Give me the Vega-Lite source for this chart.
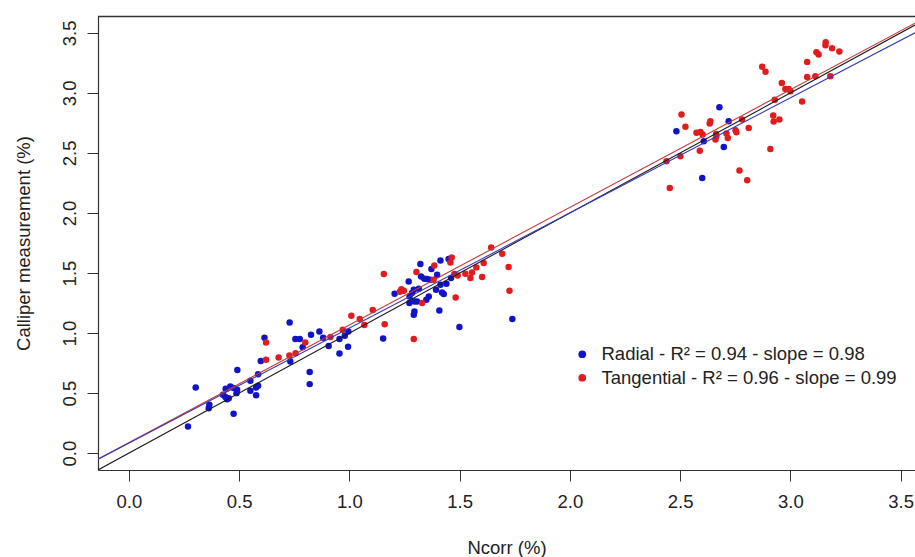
{
  "$schema": "https://vega.github.io/schema/vega-lite/v6.json",
  "width": 817,
  "height": 454,
  "autosize": {"type": "none"},
  "padding": {"left": 98, "top": 16, "right": 0, "bottom": 87},
  "background": "white",
  "config": {"view": {"stroke": null}},
  "datasets": {
    "pts": [
      {"series":"Radial","ncorr":0.268,"calliper":0.222},
      {"series":"Radial","ncorr":0.303,"calliper":0.547},
      {"series":"Radial","ncorr":0.365,"calliper":0.403},
      {"series":"Radial","ncorr":0.362,"calliper":0.375},
      {"series":"Radial","ncorr":0.427,"calliper":0.486},
      {"series":"Radial","ncorr":0.439,"calliper":0.536},
      {"series":"Radial","ncorr":0.460,"calliper":0.555},
      {"series":"Radial","ncorr":0.475,"calliper":0.542},
      {"series":"Radial","ncorr":0.491,"calliper":0.528},
      {"series":"Radial","ncorr":0.445,"calliper":0.450},
      {"series":"Radial","ncorr":0.438,"calliper":0.467},
      {"series":"Radial","ncorr":0.453,"calliper":0.458},
      {"series":"Radial","ncorr":0.488,"calliper":0.500},
      {"series":"Radial","ncorr":0.475,"calliper":0.328},
      {"series":"Radial","ncorr":0.492,"calliper":0.692},
      {"series":"Radial","ncorr":0.551,"calliper":0.603},
      {"series":"Radial","ncorr":0.551,"calliper":0.519},
      {"series":"Radial","ncorr":0.586,"calliper":0.658},
      {"series":"Radial","ncorr":0.586,"calliper":0.561},
      {"series":"Radial","ncorr":0.577,"calliper":0.547},
      {"series":"Radial","ncorr":0.577,"calliper":0.483},
      {"series":"Radial","ncorr":0.598,"calliper":0.767},
      {"series":"Radial","ncorr":0.615,"calliper":0.961},
      {"series":"Radial","ncorr":0.729,"calliper":1.088},
      {"series":"Radial","ncorr":0.732,"calliper":0.763},
      {"series":"Radial","ncorr":0.755,"calliper":0.950},
      {"series":"Radial","ncorr":0.775,"calliper":0.950},
      {"series":"Radial","ncorr":0.788,"calliper":0.883},
      {"series":"Radial","ncorr":0.820,"calliper":0.675},
      {"series":"Radial","ncorr":0.820,"calliper":0.575},
      {"series":"Radial","ncorr":0.826,"calliper":0.986},
      {"series":"Radial","ncorr":0.864,"calliper":1.013},
      {"series":"Radial","ncorr":0.881,"calliper":0.961},
      {"series":"Radial","ncorr":0.906,"calliper":0.892},
      {"series":"Radial","ncorr":0.955,"calliper":0.950},
      {"series":"Radial","ncorr":0.979,"calliper":0.978},
      {"series":"Radial","ncorr":0.995,"calliper":1.013},
      {"series":"Radial","ncorr":0.955,"calliper":0.830},
      {"series":"Radial","ncorr":0.994,"calliper":0.886},
      {"series":"Radial","ncorr":1.153,"calliper":0.955},
      {"series":"Radial","ncorr":1.205,"calliper":1.328},
      {"series":"Radial","ncorr":1.269,"calliper":1.430},
      {"series":"Radial","ncorr":1.272,"calliper":1.250},
      {"series":"Radial","ncorr":1.273,"calliper":1.305},
      {"series":"Radial","ncorr":1.284,"calliper":1.333},
      {"series":"Radial","ncorr":1.292,"calliper":1.361},
      {"series":"Radial","ncorr":1.315,"calliper":1.369},
      {"series":"Radial","ncorr":1.295,"calliper":1.263},
      {"series":"Radial","ncorr":1.307,"calliper":1.263},
      {"series":"Radial","ncorr":1.295,"calliper":1.180},
      {"series":"Radial","ncorr":1.292,"calliper":1.153},
      {"series":"Radial","ncorr":1.322,"calliper":1.575},
      {"series":"Radial","ncorr":1.325,"calliper":1.472},
      {"series":"Radial","ncorr":1.340,"calliper":1.453},
      {"series":"Radial","ncorr":1.352,"calliper":1.450},
      {"series":"Radial","ncorr":1.367,"calliper":1.444},
      {"series":"Radial","ncorr":1.372,"calliper":1.533},
      {"series":"Radial","ncorr":1.360,"calliper":1.305},
      {"series":"Radial","ncorr":1.349,"calliper":1.278},
      {"series":"Radial","ncorr":1.398,"calliper":1.486},
      {"series":"Radial","ncorr":1.413,"calliper":1.605},
      {"series":"Radial","ncorr":1.450,"calliper":1.617},
      {"series":"Radial","ncorr":1.461,"calliper":1.458},
      {"series":"Radial","ncorr":1.440,"calliper":1.411},
      {"series":"Radial","ncorr":1.413,"calliper":1.403},
      {"series":"Radial","ncorr":1.393,"calliper":1.361},
      {"series":"Radial","ncorr":1.420,"calliper":1.338},
      {"series":"Radial","ncorr":1.428,"calliper":1.325},
      {"series":"Radial","ncorr":1.408,"calliper":1.188},
      {"series":"Radial","ncorr":1.499,"calliper":1.050},
      {"series":"Radial","ncorr":1.739,"calliper":1.117},
      {"series":"Radial","ncorr":2.678,"calliper":2.880},
      {"series":"Radial","ncorr":2.720,"calliper":2.763},
      {"series":"Radial","ncorr":2.483,"calliper":2.680},
      {"series":"Radial","ncorr":2.607,"calliper":2.597},
      {"series":"Radial","ncorr":2.698,"calliper":2.550},
      {"series":"Radial","ncorr":2.600,"calliper":2.292},
      {"series":"Tangential","ncorr":0.622,"calliper":0.922},
      {"series":"Tangential","ncorr":0.622,"calliper":0.778},
      {"series":"Tangential","ncorr":0.679,"calliper":0.797},
      {"series":"Tangential","ncorr":0.728,"calliper":0.813},
      {"series":"Tangential","ncorr":0.756,"calliper":0.833},
      {"series":"Tangential","ncorr":0.800,"calliper":0.922},
      {"series":"Tangential","ncorr":0.914,"calliper":0.967},
      {"series":"Tangential","ncorr":0.970,"calliper":1.028},
      {"series":"Tangential","ncorr":1.009,"calliper":1.144},
      {"series":"Tangential","ncorr":1.047,"calliper":1.117},
      {"series":"Tangential","ncorr":1.068,"calliper":1.067},
      {"series":"Tangential","ncorr":1.106,"calliper":1.192},
      {"series":"Tangential","ncorr":1.160,"calliper":1.073},
      {"series":"Tangential","ncorr":1.156,"calliper":1.492},
      {"series":"Tangential","ncorr":1.236,"calliper":1.365},
      {"series":"Tangential","ncorr":1.247,"calliper":1.353},
      {"series":"Tangential","ncorr":1.229,"calliper":1.344},
      {"series":"Tangential","ncorr":1.292,"calliper":0.950},
      {"series":"Tangential","ncorr":1.304,"calliper":1.508},
      {"series":"Tangential","ncorr":1.330,"calliper":1.250},
      {"series":"Tangential","ncorr":1.382,"calliper":1.444},
      {"series":"Tangential","ncorr":1.385,"calliper":1.563},
      {"series":"Tangential","ncorr":1.464,"calliper":1.630},
      {"series":"Tangential","ncorr":1.458,"calliper":1.588},
      {"series":"Tangential","ncorr":1.476,"calliper":1.492},
      {"series":"Tangential","ncorr":1.491,"calliper":1.480},
      {"series":"Tangential","ncorr":1.482,"calliper":1.297},
      {"series":"Tangential","ncorr":1.526,"calliper":1.494},
      {"series":"Tangential","ncorr":1.549,"calliper":1.458},
      {"series":"Tangential","ncorr":1.556,"calliper":1.505},
      {"series":"Tangential","ncorr":1.576,"calliper":1.547},
      {"series":"Tangential","ncorr":1.602,"calliper":1.467},
      {"series":"Tangential","ncorr":1.609,"calliper":1.583},
      {"series":"Tangential","ncorr":1.643,"calliper":1.713},
      {"series":"Tangential","ncorr":1.693,"calliper":1.661},
      {"series":"Tangential","ncorr":1.722,"calliper":1.550},
      {"series":"Tangential","ncorr":1.726,"calliper":1.353},
      {"series":"Tangential","ncorr":2.438,"calliper":2.430},
      {"series":"Tangential","ncorr":2.453,"calliper":2.208},
      {"series":"Tangential","ncorr":2.501,"calliper":2.472},
      {"series":"Tangential","ncorr":2.506,"calliper":2.819},
      {"series":"Tangential","ncorr":2.524,"calliper":2.717},
      {"series":"Tangential","ncorr":2.574,"calliper":2.667},
      {"series":"Tangential","ncorr":2.592,"calliper":2.675},
      {"series":"Tangential","ncorr":2.602,"calliper":2.653},
      {"series":"Tangential","ncorr":2.589,"calliper":2.519},
      {"series":"Tangential","ncorr":2.637,"calliper":2.763},
      {"series":"Tangential","ncorr":2.634,"calliper":2.744},
      {"series":"Tangential","ncorr":2.660,"calliper":2.611},
      {"series":"Tangential","ncorr":2.663,"calliper":2.658},
      {"series":"Tangential","ncorr":2.664,"calliper":2.638},
      {"series":"Tangential","ncorr":2.710,"calliper":2.661},
      {"series":"Tangential","ncorr":2.716,"calliper":2.625},
      {"series":"Tangential","ncorr":2.751,"calliper":2.688},
      {"series":"Tangential","ncorr":2.755,"calliper":2.672},
      {"series":"Tangential","ncorr":2.781,"calliper":2.778},
      {"series":"Tangential","ncorr":2.811,"calliper":2.708},
      {"series":"Tangential","ncorr":2.769,"calliper":2.353},
      {"series":"Tangential","ncorr":2.804,"calliper":2.272},
      {"series":"Tangential","ncorr":2.872,"calliper":3.217},
      {"series":"Tangential","ncorr":2.887,"calliper":3.175},
      {"series":"Tangential","ncorr":2.909,"calliper":2.533},
      {"series":"Tangential","ncorr":2.922,"calliper":2.811},
      {"series":"Tangential","ncorr":2.924,"calliper":2.761},
      {"series":"Tangential","ncorr":2.950,"calliper":2.778},
      {"series":"Tangential","ncorr":2.929,"calliper":2.942},
      {"series":"Tangential","ncorr":2.961,"calliper":3.083},
      {"series":"Tangential","ncorr":2.977,"calliper":3.033},
      {"series":"Tangential","ncorr":2.992,"calliper":3.033},
      {"series":"Tangential","ncorr":3.000,"calliper":3.013},
      {"series":"Tangential","ncorr":3.053,"calliper":2.928},
      {"series":"Tangential","ncorr":3.076,"calliper":3.258},
      {"series":"Tangential","ncorr":3.076,"calliper":3.133},
      {"series":"Tangential","ncorr":3.113,"calliper":3.138},
      {"series":"Tangential","ncorr":3.118,"calliper":3.338},
      {"series":"Tangential","ncorr":3.128,"calliper":3.319},
      {"series":"Tangential","ncorr":3.160,"calliper":3.422},
      {"series":"Tangential","ncorr":3.159,"calliper":3.397},
      {"series":"Tangential","ncorr":3.189,"calliper":3.372},
      {"series":"Tangential","ncorr":3.222,"calliper":3.344},
      {"series":"Tangential","ncorr":3.181,"calliper":3.138}
    ],
    "lines": [
      {"line":"identity","ncorr":-0.14,"calliper":-0.14},
      {"line":"identity","ncorr":3.565,"calliper":3.565},
      {"line":"tangential","ncorr":-0.14,"calliper":-0.05},
      {"line":"tangential","ncorr":3.565,"calliper":3.58},
      {"line":"radial","ncorr":-0.14,"calliper":-0.05},
      {"line":"radial","ncorr":3.565,"calliper":3.50},
      {"line":"frame","ncorr":-0.14,"calliper":3.636},
      {"line":"frame","ncorr":3.565,"calliper":3.636}
    ]
  },
  "encoding": {
    "x": {
      "field": "ncorr", "type": "quantitative",
      "scale": {"domain": [-0.14, 3.565], "nice": false, "zero": false},
      "axis": {
        "title": "Ncorr (%)", "values": [0, 0.5, 1, 1.5, 2, 2.5, 3, 3.5], "format": ".1f",
        "grid": false, "domain": true, "domainColor": "#333333", "domainWidth": 1.2,
        "tickSize": 11, "tickColor": "#333333", "tickWidth": 1,
        "labelFont": "Liberation Sans", "labelFontSize": 18.5, "labelColor": "#222222",
        "labelPadding": 11, "labelFlush": false, "labelOverlap": false,
        "titleFont": "Liberation Sans", "titleFontSize": 18.5, "titleFontWeight": "normal",
        "titleColor": "#222222", "titlePadding": 28
      }
    },
    "y": {
      "field": "calliper", "type": "quantitative",
      "scale": {"domain": [-0.14, 3.64], "nice": false, "zero": false},
      "axis": {
        "title": "Calliper measurement (%)", "values": [0, 0.5, 1, 1.5, 2, 2.5, 3, 3.5], "format": ".1f",
        "grid": false, "domain": true, "domainColor": "#333333", "domainWidth": 1.2,
        "tickSize": 11, "tickColor": "#333333", "tickWidth": 1,
        "labelFont": "Liberation Sans", "labelFontSize": 18.5, "labelColor": "#222222",
        "labelAngle": 270, "labelAlign": "center", "labelBaseline": "alphabetic",
        "labelPadding": 12, "labelFlush": false, "labelOverlap": false,
        "titleFont": "Liberation Sans", "titleFontSize": 18.5, "titleFontWeight": "normal",
        "titleColor": "#222222", "titlePadding": 27
      }
    }
  },
  "layer": [
    {
      "data": {"name": "pts"},
      "mark": {"type": "point", "shape": "circle", "filled": true, "size": 42, "opacity": 1, "strokeWidth": 0},
      "encoding": {
        "color": {
          "field": "series", "type": "nominal",
          "scale": {"domain": ["Radial", "Tangential"], "range": ["#1212c8", "#e01c1c"]},
          "legend": {
            "title": null, "orient": "none", "legendX": 475, "legendY": 329,
            "symbolType": "circle", "symbolSize": 60, "symbolStrokeWidth": 0,
            "labelFont": "Liberation Sans", "labelFontSize": 18.5, "labelColor": "#222222",
            "labelLimit": 0, "labelOffset": 10, "rowPadding": 4.5, "padding": 0,
            "labelExpr": "datum.label == 'Radial' ? 'Radial - R² = 0.94 - slope = 0.98' : 'Tangential - R² = 0.96 - slope = 0.99'"
          }
        }
      }
    },
    {
      "data": {"name": "lines"},
      "transform": [{"filter": "datum.line == 'identity'"}],
      "mark": {"type": "line", "clip": true, "color": "#1a1a1a", "strokeWidth": 1.1},
      "encoding": {}
    },
    {
      "data": {"name": "lines"},
      "transform": [{"filter": "datum.line == 'tangential'"}],
      "mark": {"type": "line", "clip": true, "color": "#c83a3a", "strokeWidth": 1.1},
      "encoding": {}
    },
    {
      "data": {"name": "lines"},
      "transform": [{"filter": "datum.line == 'radial'"}],
      "mark": {"type": "line", "clip": true, "color": "#3a3ab8", "strokeWidth": 1.1},
      "encoding": {}
    },
    {
      "data": {"name": "lines"},
      "transform": [{"filter": "datum.line == 'frame'"}],
      "mark": {"type": "line", "clip": false, "color": "#333333", "strokeWidth": 1.3},
      "encoding": {}
    }
  ]
}
